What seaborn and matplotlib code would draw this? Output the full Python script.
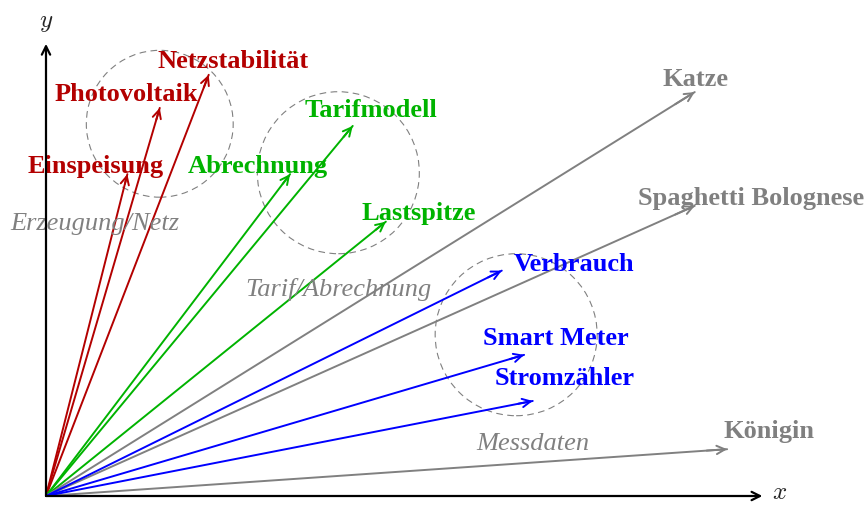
import numpy as np
import pandas as pd
import matplotlib
matplotlib.use('Agg')
import matplotlib.pyplot as plt
from matplotlib.patches import Circle
import seaborn as sns

# ── Data ─────────────────────────────────────────────────────────────────────
words = ['Einspeisung', 'Photovoltaik', 'Netzstabilität',
         'Abrechnung', 'Tarifmodell', 'Lastspitze',
         'Katze', 'Spaghetti Bolognese', 'Königin',
         'Verbrauch', 'Smart Meter', 'Stromzähler']
vec_x = [1.13, 1.58, 2.26, 3.39, 4.26, 4.72, 9.01, 9.01, 9.46, 6.33, 6.64, 6.76]
vec_y = [4.47, 5.39, 5.85, 4.47, 5.14, 3.81, 5.61, 4.03, 0.65, 3.13, 1.96, 1.32]
group = ['netz', 'netz', 'netz', 'tarif', 'tarif', 'tarif',
         'other', 'other', 'other', 'mess', 'mess', 'mess']

cluster_names = ['Erzeugung/Netz', 'Tarif/Abrechnung', 'Messdaten']
cluster_cx = [1.58, 4.06, 6.53]
cluster_cy = [5.17, 4.49, 2.24]
cluster_r = [1.02, 1.125, 1.125]

# ── Layout / style ───────────────────────────────────────────────────────────
colors = {'netz': '#B30000', 'tarif': '#00B300', 'mess': '#0000FF', 'other': '#808080'}
# label offsets from tip (pixels)
label_off = [(-32, 9), (-33, 14), (24, 14), (-32, 9), (18, 16), (33, 9),
             (1, 14), (56, 8), (42, 19), (72, 7), (32, 17), (32, 23)]
cluster_label_pos = [(0.68, 3.79), (4.06, 2.88), (6.76, 0.74)]

sns.set_theme(style='white')
plt.rcParams['font.family'] = ['Liberation Serif', 'DejaVu Serif']
plt.rcParams['mathtext.fontset'] = 'cm'

fig = plt.figure(figsize=(8.68, 5.06), dpi=100)
ax = fig.add_axes([0, 0, 1, 1])
ax.set_xlim(-46 / 72, 822 / 72)
ax.set_ylim(-9 / 72, 497 / 72)
ax.axis('off')

# ── Vectors ──────────────────────────────────────────────────────────────────
df = pd.DataFrame({'word': np.repeat(words, 2),
                   'x': np.ravel([[0, v] for v in vec_x]),
                   'y': np.ravel([[0, v] for v in vec_y]),
                   'group': np.repeat(group, 2)})
sns.lineplot(data=df, x='x', y='y', hue='group', units='word', estimator=None,
             sort=False, palette=colors, linewidth=1.4, legend=False, ax=ax)

for w, x, y, g, (ox, oy) in zip(words, vec_x, vec_y, group, label_off):
    ax.annotate('', xy=(x, y), xytext=(x * 0.97, y * 0.97),
                arrowprops=dict(arrowstyle='->', color=colors[g], lw=1.4,
                                shrinkA=0, shrinkB=0, mutation_scale=15))
    ax.annotate(w, xy=(x, y), xytext=(ox, oy), textcoords='offset pixels',
                ha='center', va='center', color=colors[g],
                fontsize=19, fontweight='bold')

# ── Cluster circles ──────────────────────────────────────────────────────────
for name, cx, cy, r, (lx, ly) in zip(cluster_names, cluster_cx, cluster_cy,
                                      cluster_r, cluster_label_pos):
    ax.add_patch(Circle((cx, cy), r, fill=False, ec='#808080', lw=0.8,
                        ls=(0, (6, 4))))
    ax.text(lx, ly, name, ha='center', va='center', color='#808080',
            fontsize=19, fontstyle='italic')

# ── Axes ─────────────────────────────────────────────────────────────────────
arrow = dict(arrowstyle='->', color='black', lw=1.6, shrinkA=0, shrinkB=0,
             mutation_scale=15)
ax.annotate('', xy=(9.95, 0), xytext=(0, 0), arrowprops=arrow)
ax.annotate('', xy=(0, 6.28), xytext=(0, 0), arrowprops=arrow)
ax.text(10.19, 0.05, '$x$', ha='center', va='center', fontsize=18)
ax.text(0, 6.58, '$y$', ha='center', va='center', fontsize=18)

fig.savefig('out.png', dpi=100)
